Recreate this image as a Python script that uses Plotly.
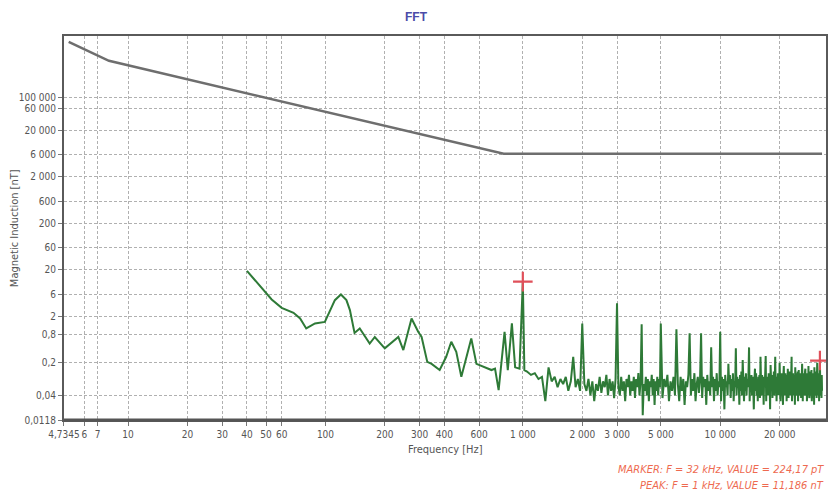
import plotly.graph_objects as go

# ---------------- data ----------------
X_TICKS = [4.7345, 6, 7, 10, 20, 30, 40, 50, 60, 100, 200, 300, 400, 600,
           1000, 2000, 3000, 5000, 10000, 20000]
X_TICK_TEXT = ["4,7345", "6", "7", "10", "20", "30", "40", "50", "60", "100", "200",
               "300", "400", "600", "1 000", "2 000", "3 000", "5 000", "10 000", "20 000"]
Y_TICKS = [0.0118, 0.04, 0.2, 0.8, 2, 6, 20, 60, 200, 600, 2000, 6000, 20000, 60000, 100000]
Y_TICK_TEXT = ["0,0118", "0,04", "0,2", "0,8", "2", "6", "20", "60", "200", "600",
               "2 000", "6 000", "20 000", "60 000", "100 000"]

# limit line (grey)
LIMIT_F = [5, 8, 800, 32800]
LIMIT_V = [1.6e6, 6.25e5, 6250, 6250]

# measured spectrum, low-frequency part (Hz, nT)
LOW_F = [40, 47.6, 53.4, 60, 68.9, 74.4, 79.9, 88.5, 99.3, 111.6, 119.8, 127.7, 133,
         140.4, 149.2, 167.5, 177.8, 199.8, 234, 248, 273, 295, 307, 328, 345, 379,
         409, 434, 460, 488, 517, 548, 582, 617, 694, 723, 754, 808, 839, 880, 914,
         962, 1000, 1018]
LOW_V = [19, 7.96, 4.62, 3.05, 2.38, 1.80, 1.10, 1.41, 1.52, 4.46, 5.9, 4.46, 2.72,
         0.88, 1.10, 0.52, 0.72, 0.41, 0.72, 0.376, 1.80, 0.93, 0.72, 0.21, 0.19, 0.14,
         0.27, 0.57, 0.345, 0.10, 0.27, 0.67, 0.19, 0.17, 0.14, 0.15, 0.052, 0.93, 0.14,
         1.41, 0.16, 0.15, 11.186, 0.14]

# mid band: FFT bins from 1050 Hz, 50 Hz apart (nT)
MID_F_START = 1050
MID_F_STEP = 50
MID_V = [
    0.13, 0.11, 0.12, 0.09, 0.10, 0.03, 0.16, 0.08, 0.10, 0.06,
    0.09, 0.07, 0.10, 0.05, 0.08, 0.27, 0.06, 0.09, 0.05, 1.4,
    0.07, 0.05, 0.09, 0.04, 0.08, 0.03, 0.07, 0.05, 0.10, 0.045,
    0.08, 0.06, 0.11, 0.04, 0.09, 0.05, 0.08, 0.035, 0.09, 3.8,
    0.06, 0.04, 0.10, 0.05, 0.08, 0.03, 0.09, 0.06, 0.11, 0.04,
    0.08, 0.05, 0.10, 0.035, 0.09, 0.06, 0.12, 0.04, 0.08, 1.35,
    0.015, 0.07, 0.05, 0.10, 0.04, 0.09, 0.03, 0.08, 0.06, 0.11,
    0.04, 0.09, 0.025, 0.08, 0.05, 0.10, 0.04, 0.09, 0.06,
]

# high band: FFT bins from 5000 Hz, 100 Hz apart (nT)
HIGH_F_START = 5000
HIGH_F_STEP = 100
HIGH_V = [
    1.4,
    0.035, 0.09, 0.06, 0.11, 0.03, 0.08, 0.05, 0.10, 0.04, 1.05,
    0.07, 0.03, 0.10, 0.05, 0.09, 0.025, 0.08, 0.06, 0.11, 0.87,
    0.04, 0.09, 0.05, 0.12, 0.03, 0.07, 0.10, 0.045, 0.08, 0.87,
    0.035, 0.10, 0.06, 0.09, 0.025, 0.11, 0.05, 0.08, 0.04, 0.43,
    0.06, 0.10, 0.03, 0.09, 0.05, 0.12, 0.04, 0.08, 0.06, 0.93,
    0.03, 0.10, 0.05, 0.09, 0.02, 0.11, 0.06, 0.08, 0.04, 0.19,
    0.07, 0.11, 0.035, 0.09, 0.05, 0.12, 0.03, 0.08, 0.06, 0.41,
    0.04, 0.10, 0.06, 0.09, 0.025, 0.11, 0.05, 0.13, 0.04, 0.23,
    0.08, 0.03, 0.10, 0.05, 0.12, 0.04, 0.09, 0.06, 0.11, 0.43,
    0.03, 0.09, 0.05, 0.11, 0.04, 0.10, 0.06, 0.02, 0.08, 0.15,
    0.05, 0.12, 0.04, 0.09, 0.03, 0.10, 0.06, 0.11, 0.035, 0.27,
    0.08, 0.04, 0.11, 0.05, 0.09, 0.025, 0.10, 0.06, 0.12, 0.28,
    0.03, 0.10, 0.05, 0.09, 0.04, 0.12, 0.06, 0.08, 0.02, 0.18,
    0.09, 0.05, 0.11, 0.035, 0.10, 0.06, 0.13, 0.04, 0.08, 0.27,
    0.05, 0.10, 0.03, 0.09, 0.06, 0.12, 0.04, 0.11, 0.05, 0.20,
    0.08, 0.03, 0.10, 0.06, 0.12, 0.04, 0.09, 0.025, 0.11, 0.17,
    0.05, 0.10, 0.04, 0.12, 0.06, 0.09, 0.03, 0.11, 0.05, 0.15,
    0.09, 0.035, 0.11, 0.06, 0.13, 0.04, 0.10, 0.05, 0.08, 0.27,
    0.03, 0.10, 0.06, 0.12, 0.04, 0.09, 0.05, 0.11, 0.025, 0.16,
    0.08, 0.05, 0.12, 0.04, 0.10, 0.06, 0.13, 0.03, 0.09, 0.14,
    0.05, 0.11, 0.04, 0.10, 0.06, 0.12, 0.035, 0.09, 0.05, 0.19,
    0.10, 0.03, 0.12, 0.06, 0.09, 0.04, 0.11, 0.05, 0.13, 0.15,
    0.04, 0.10, 0.06, 0.12, 0.03, 0.09, 0.05, 0.11, 0.04, 0.17,
    0.06, 0.12, 0.035, 0.10, 0.05, 0.13, 0.04, 0.09, 0.06, 0.14,
    0.03, 0.11, 0.05, 0.10, 0.04, 0.12, 0.06, 0.09, 0.025, 0.16,
    0.08, 0.05, 0.12, 0.04, 0.10, 0.06, 0.13, 0.035, 0.09, 0.20,
    0.05, 0.11, 0.04, 0.10, 0.06, 0.12, 0.03, 0.09, 0.05, 0.224,
    0.10, 0.04, 0.12, 0.06, 0.09, 0.035, 0.11, 0.05,
]

MARKER_F = [1000, 32000]
MARKER_V = [11.186, 0.22417]

TITLE = "FFT"
X_TITLE = "Frequency [Hz]"
Y_TITLE = "Magnetic Induction [nT]"
INFO_LINES = ["MARKER: F = 32 kHz, VALUE = 224,17 pT",
              "PEAK: F = 1 kHz, VALUE = 11,186 nT"]

# ---------------- figure ----------------
mid_f = [MID_F_START + MID_F_STEP * i for i in range(len(MID_V))]
high_f = [HIGH_F_START + HIGH_F_STEP * i for i in range(len(HIGH_V))]
spec_f = LOW_F + mid_f + high_f
spec_v = LOW_V + MID_V + HIGH_V

FONT = "Liberation Sans Narrow, DejaVu Sans Condensed, Arial Narrow, Liberation Sans, sans-serif"

fig = go.Figure()
fig.add_trace(go.Scatter(x=LIMIT_F, y=LIMIT_V, mode="lines",
                         line=dict(color="#6e6e6e", width=2.5), hoverinfo="skip"))
fig.add_trace(go.Scatter(x=spec_f, y=spec_v, mode="lines",
                         line=dict(color="#2e7a37", width=2)))
fig.add_trace(go.Scatter(x=MARKER_F, y=MARKER_V, mode="markers",
                         marker=dict(symbol="cross-thin", size=14,
                                     line=dict(color="#e0505a", width=2.2))))

axis_common = dict(
    showgrid=True, gridcolor="#b0b0b0", gridwidth=1, griddash="3px,2px",
    showline=True, linecolor="#5a5a5a", linewidth=2, mirror=True,
    ticks="outside", ticklen=4, tickcolor="#777",
    tickfont=dict(family=FONT, size=10, color="#555"),
    zeroline=False,
)

fig.update_xaxes(type="log", range=[0.6753, 4.536], tickvals=X_TICKS,
                 ticktext=X_TICK_TEXT, tickangle=0, **axis_common)
fig.update_yaxes(type="log", range=[-1.928, 6.33], tickvals=Y_TICKS,
                 ticktext=Y_TICK_TEXT, **axis_common)

annotations = [
    dict(text=f"<b>{TITLE}</b>", xref="paper", yref="paper", x=(417.5 - 64) / 764,
         y=1.0 + (36 - 17) / 384, xanchor="center", yanchor="middle", showarrow=False,
         font=dict(family="Liberation Sans, Arial, sans-serif", size=12, color="#4b4ba8")),
    dict(text=X_TITLE, xref="paper", yref="paper", x=0.5, y=-(449 - 420) / 384,
         xanchor="center", yanchor="middle", showarrow=False,
         font=dict(family=FONT, size=11, color="#555")),
    dict(text=Y_TITLE, xref="paper", yref="paper", x=-(64 - 14) / 764, y=0.5,
         xanchor="center", yanchor="middle", textangle=-90, showarrow=False,
         font=dict(family=FONT, size=11, color="#555")),
]
for k, line in enumerate(INFO_LINES):
    annotations.append(dict(text=f"<i>{line}</i>", xref="paper", yref="paper",
                            x=1.0, y=-(469 + 16 * k - 420) / 384,
                            xanchor="right", yanchor="middle", showarrow=False,
                            font=dict(family=FONT, size=11, color="#ee6a50")))

fig.update_layout(
    width=835, height=494,
    margin=dict(l=64, r=7, t=36, b=74),
    paper_bgcolor="white", plot_bgcolor="white",
    showlegend=False,
    annotations=annotations,
    shapes=[dict(type="line", xref="paper", yref="paper", x0=0, x1=1, y0=0, y1=0,
                 line=dict(color="#555", width=3))],
)

fig.write_html("out.html")
